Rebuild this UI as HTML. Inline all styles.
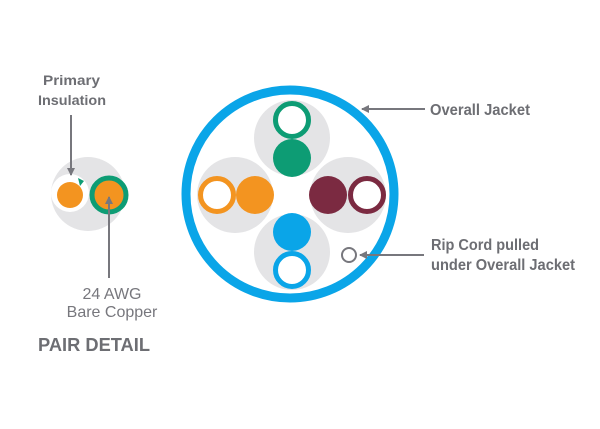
<!DOCTYPE html>
<html><head><style>body{margin:0;background:#fff}svg{display:block}</style></head><body>
<svg width="600" height="429" viewBox="0 0 600 429" xmlns="http://www.w3.org/2000/svg">
<defs><marker id="a" markerWidth="8" markerHeight="8" refX="7" refY="4" orient="auto" markerUnits="userSpaceOnUse"><path d="M0,0 L8,4 L0,8 Z" fill="#77777d"/></marker></defs>
<g fill="#e4e4e6">
<circle cx="292" cy="138" r="38"/><circle cx="235" cy="195" r="38"/><circle cx="348" cy="195" r="38"/><circle cx="292" cy="252" r="38"/>
<circle cx="88" cy="194" r="37"/>
</g>
<circle cx="290" cy="194" r="104" fill="none" stroke="#0aa5e8" stroke-width="9"/>
<circle cx="292" cy="120" r="16.5" fill="#fff" stroke="#0d9c74" stroke-width="5"/>
<circle cx="292" cy="158" r="19" fill="#0d9c74"/>
<circle cx="217" cy="195" r="16.5" fill="#fff" stroke="#f39420" stroke-width="5"/>
<circle cx="255" cy="195" r="19" fill="#f39420"/>
<circle cx="328" cy="195" r="19" fill="#7b2a41"/>
<circle cx="367" cy="195" r="16.5" fill="#fff" stroke="#7b2a41" stroke-width="5"/>
<circle cx="292" cy="232" r="19" fill="#0aa5e8"/>
<circle cx="292" cy="270" r="16.5" fill="#fff" stroke="#0aa5e8" stroke-width="5"/>
<circle cx="349" cy="255" r="7" fill="#fff" stroke="#77777d" stroke-width="2"/>
<circle cx="70" cy="193" r="19" fill="#fff"/>
<circle cx="70" cy="195" r="13" fill="#f39420"/>
<path d="M78,178 L84,181 L80,186 Z" fill="#0d9c74"/>
<circle cx="109" cy="195" r="17" fill="#f39420" stroke="#0d9c74" stroke-width="5"/>
<g stroke="#77777d" stroke-width="2" marker-end="url(#a)">
<line x1="425" y1="109" x2="362" y2="109"/>
<line x1="424" y1="255" x2="360" y2="255"/>
<line x1="71" y1="115" x2="71" y2="175"/>
<line x1="109" y1="278" x2="109" y2="197"/>
</g>
<g fill="#6d6e73" font-family="Liberation Sans, sans-serif" font-weight="bold">
<text x="430" y="115" font-size="16" textLength="100" lengthAdjust="spacingAndGlyphs">Overall Jacket</text>
<text x="431" y="250" font-size="16" textLength="108" lengthAdjust="spacingAndGlyphs">Rip Cord pulled</text>
<text x="431" y="270" font-size="16" textLength="144" lengthAdjust="spacingAndGlyphs">under Overall Jacket</text>
<text x="43" y="85" font-size="14" textLength="57" lengthAdjust="spacingAndGlyphs">Primary</text>
<text x="38" y="105" font-size="14" textLength="68" lengthAdjust="spacingAndGlyphs">Insulation</text>
<text x="38" y="351" font-size="18" textLength="112" lengthAdjust="spacingAndGlyphs">PAIR  DETAIL</text>
</g>
<g fill="#77777d" font-family="Liberation Sans, sans-serif" font-size="16" text-anchor="middle">
<text x="112" y="299">24 AWG</text>
<text x="112" y="317">Bare Copper</text>
</g>
</svg>
</body></html>
